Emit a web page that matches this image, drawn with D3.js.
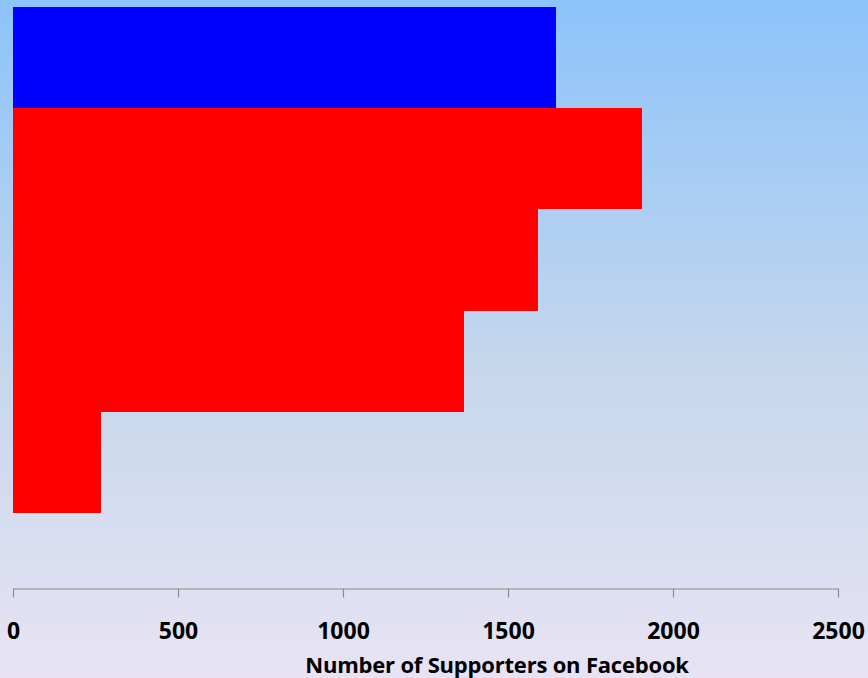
<!DOCTYPE html>
<html><head><meta charset="utf-8">
<script src="https://cdn.jsdelivr.net/npm/d3@7"></script>
<style>html,body{margin:0;padding:0;}svg{display:block;}</style>
</head><body>
<script>
const categories = ["A","B","C","D","E"];
const values = [1645, 1905, 1591, 1367, 268];
const barColors = ["#0000FF","#FF0000","#FF0000","#FF0000","#FF0000"];
const ticks = [0, 500, 1000, 1500, 2000, 2500];
const axisTitle = "Number of Supporters on Facebook";

const W = 868, H = 678;
const svg = d3.select("body").append("svg").attr("width", W).attr("height", H);
const defs = svg.append("defs");
const g = defs.append("linearGradient").attr("id","bg").attr("x1",0).attr("y1",0).attr("x2",0).attr("y2",1);
g.append("stop").attr("offset","0%").attr("stop-color","#8CC3FA");
g.append("stop").attr("offset","55%").attr("stop-color","#C6D7EC");
g.append("stop").attr("offset","100%").attr("stop-color","#E8E3F4");
svg.append("rect").attr("width",W).attr("height",H).attr("fill","url(#bg)");

const x = d3.scaleLinear().domain([0, 2500]).range([13, 838]);
const y = d3.scaleBand().domain(categories).range([7, 513]).padding(0);

svg.selectAll("rect.bar").data(categories).enter().append("rect")
  .attr("class","bar")
  .attr("x", x(0))
  .attr("y", d => Math.round(y(d)))
  .attr("width", (d,i) => x(values[i]) - x(0))
  .attr("height", d => Math.round(y(d) + y.bandwidth()) - Math.round(y(d)))
  .attr("shape-rendering","crispEdges")
  .attr("fill", (d,i) => barColors[i]);

const axisG = svg.append("g").attr("transform","translate(0,588.5)")
  .call(d3.axisBottom(x).tickValues(ticks).tickSize(9).tickSizeOuter(0).tickFormat(d3.format("d")));
axisG.select(".domain").attr("stroke","#8C8C8C").attr("stroke-width",1.2);
axisG.selectAll(".tick line").attr("stroke","#8C8C8C").attr("stroke-width",1.2);
axisG.selectAll(".tick text")
  .attr("y", 42).attr("dy","0.35em")
  .attr("font-family","'Open Sans', 'Liberation Sans', sans-serif")
  .attr("font-weight","bold").attr("font-size","23px").attr("fill","#000");

svg.append("text").attr("x", 497).attr("y", 673)
  .attr("text-anchor","middle")
  .attr("font-family","'Open Sans', 'Liberation Sans', sans-serif")
  .attr("font-weight","bold").attr("font-size","22px").attr("fill","#000")
  .attr("letter-spacing","-0.2px")
  .text(axisTitle);
</script>
</body></html>
